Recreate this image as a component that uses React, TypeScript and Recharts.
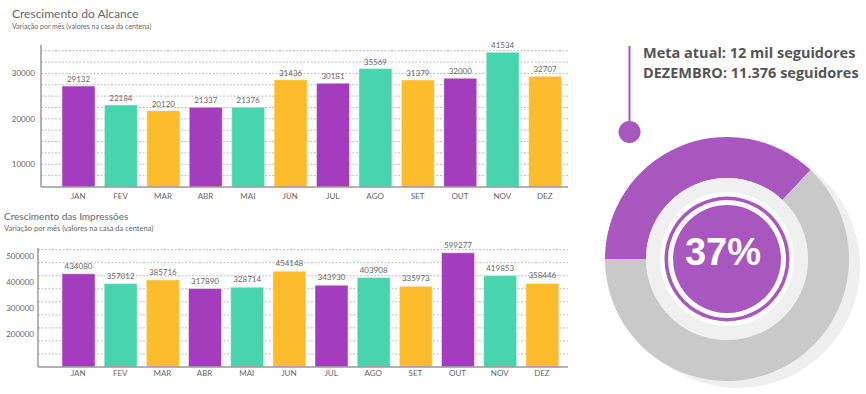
import React from 'react';
import { BarChart, Bar, XAxis, YAxis, CartesianGrid, Cell, LabelList, PieChart, Pie, Label } from 'recharts';

const MONTHS = ['JAN', 'FEV', 'MAR', 'ABR', 'MAI', 'JUN', 'JUL', 'AGO', 'SET', 'OUT', 'NOV', 'DEZ'];
const ALCANCE = [29132, 22184, 20120, 21337, 21376, 31436, 30181, 35569, 31379, 32000, 41534, 32707];
const IMPRESSOES = [434080, 357012, 385716, 317890, 328714, 454148, 343930, 403908, 335973, 599277, 419853, 358446];

const ALCANCE_TICKS = [10000, 20000, 30000];
const ALCANCE_GRID = [7500, 10000, 12500, 15000, 17500, 20000, 22500, 25000, 27500, 30000, 32500, 35000];
const IMPRESSOES_TICKS = [200000, 300000, 400000, 500000];
const IMPRESSOES_GRID = [125000, 175000, 225000, 275000, 325000, 375000, 425000, 475000, 525000];

// the bars of the source are not drawn to the printed axis, so they get their own hidden scale
const ALCANCE_BAR_DOMAIN = [-7900, 44200];
const IMPRESSOES_BAR_DOMAIN = [-300000, 637000];

const META = [
  { name: 'Atingido', value: 37 },
  { name: 'Restante', value: 63 },
];
const FULL = [{ name: 'full', value: 1 }];

const BAR_COLORS = ['#A43DBD', '#48D5AE', '#FDBC2B'];
const PURPLE = '#A857BF';
const TEXT = '#666';
const FONT = 'Lato, sans-serif';

const alcanceData = MONTHS.map((m, i) => ({ month: m, value: ALCANCE[i], range: [ALCANCE_BAR_DOMAIN[0], ALCANCE[i]] }));
const impressoesData = MONTHS.map((m, i) => ({ month: m, value: IMPRESSOES[i], range: [IMPRESSOES_BAR_DOMAIN[0], IMPRESSOES[i]] }));

const tickStyle = { fontSize: 8, fill: TEXT, fontFamily: FONT };

function Title({ x, y, size, sub, subSize, gap, children }: any) {
  return (
    <div style={{ position: 'absolute', left: x, top: y, fontFamily: FONT, color: TEXT, whiteSpace: 'nowrap' }}>
      <div style={{ fontSize: size, lineHeight: 1.2 }}>{children}</div>
      <div style={{ fontSize: subSize, lineHeight: 1.3, marginTop: gap }}>{sub}</div>
    </div>
  );
}

export default function App() {
  return (
    <div style={{ position: 'absolute', left: 0, top: 0, width: 866, height: 394, background: '#fff', overflow: 'hidden' }}>
      <Title x={12} y={7} size={12} subSize={7} gap={1} sub="Variação por mês (valores na casa da centena)">
        Crescimento do Alcance
      </Title>
      <Title x={4} y={210} size={10} subSize={7.5} gap={2} sub="Variação por mês (valores na casa da centena)">
        Crescimento das Impressões
      </Title>

      <div style={{ position: 'absolute', left: 0, top: 0 }}>
        <BarChart width={570} height={210} data={alcanceData} margin={{ top: 45, right: 2, left: 0, bottom: 3 }}>
          <CartesianGrid yAxisId="tick" vertical={false} horizontalValues={ALCANCE_GRID} stroke="#bbb" strokeDasharray="2 1.5" />
          <XAxis dataKey="month" tick={tickStyle} tickLine={false} tickSize={6} tickMargin={0} height={20}
            axisLine={{ stroke: '#999', strokeWidth: 1.5 }} padding={{ left: 16, right: 2 }} />
          <YAxis yAxisId="tick" width={41} domain={[5000, 36250]} ticks={ALCANCE_TICKS} interval={0} allowDataOverflow
            tick={tickStyle} tickLine={false} tickSize={0} tickMargin={6} axisLine={{ stroke: '#999', strokeWidth: 1.5 }} />
          <YAxis yAxisId="bar" orientation="right" width={0} hide domain={ALCANCE_BAR_DOMAIN} allowDataOverflow />
          <Bar yAxisId="bar" dataKey="range" barSize={33} stroke="#ffffff" strokeOpacity={0.45} isAnimationActive={false}>
            {alcanceData.map((_, i) => (
              <Cell key={i} fill={BAR_COLORS[i % 3]} />
            ))}
            <LabelList dataKey="value" position="top" offset={4} style={{ fontSize: 8, fill: TEXT, fontFamily: FONT }} />
          </Bar>
        </BarChart>
      </div>

      <div style={{ position: 'absolute', left: 0, top: 200 }}>
        <BarChart width={570} height={194} data={impressoesData} margin={{ top: 48, right: 2, left: 0, bottom: 7 }}>
          <CartesianGrid yAxisId="tick" vertical={false} horizontalValues={IMPRESSOES_GRID} stroke="#bbb" strokeDasharray="2 1.5" />
          <XAxis dataKey="month" tick={tickStyle} tickLine={false} tickSize={3} tickMargin={0} height={20}
            axisLine={{ stroke: '#999', strokeWidth: 1.5 }} padding={{ left: 19, right: 5 }} />
          <YAxis yAxisId="tick" width={38} domain={[75000, 531500]} ticks={IMPRESSOES_TICKS} interval={0} allowDataOverflow
            tick={tickStyle} tickLine={false} tickSize={0} tickMargin={4} axisLine={{ stroke: '#999', strokeWidth: 1.5 }} />
          <YAxis yAxisId="bar" orientation="right" width={0} hide domain={IMPRESSOES_BAR_DOMAIN} allowDataOverflow />
          <Bar yAxisId="bar" dataKey="range" barSize={33} stroke="#ffffff" strokeOpacity={0.45} isAnimationActive={false}>
            {impressoesData.map((_, i) => (
              <Cell key={i} fill={BAR_COLORS[i % 3]} />
            ))}
            <LabelList dataKey="value" position="top" offset={5} style={{ fontSize: 8, fill: TEXT, fontFamily: FONT }} />
          </Bar>
        </BarChart>
      </div>

      <div style={{ position: 'absolute', left: 643, top: 43, fontFamily: '"Open Sans", sans-serif', fontWeight: 700,
        fontSize: 14.5, color: '#555', lineHeight: '20px', whiteSpace: 'nowrap' }}>
        <div>Meta atual: 12 mil seguidores</div>
        <div>DEZEMBRO: 11.376 seguidores</div>
      </div>

      <svg style={{ position: 'absolute', left: 0, top: 0 }} width={866} height={394}>
        <line x1={629.5} y1={46} x2={629.5} y2={128} stroke={PURPLE} strokeWidth={2} />
        <circle cx={629.5} cy={132} r={11} fill={PURPLE} />
      </svg>

      <div style={{ position: 'absolute', left: 580, top: 110 }}>
        <PieChart width={286} height={284}>
          <Pie data={FULL} dataKey="value" cx={153} cy={151} outerRadius={122} fill="#efefef" stroke="none" isAnimationActive={false} />
          <Pie data={META} dataKey="value" cx={142} cy={144} innerRadius={81} outerRadius={122} startAngle={180} endAngle={-180}
            stroke="none" isAnimationActive={false}>
            <Cell fill={PURPLE} />
            <Cell fill="#C9C9C9" />
          </Pie>
          <Pie data={FULL} dataKey="value" cx={142} cy={144} outerRadius={81} fill="#f0f0f0" stroke="none" isAnimationActive={false} />
          <Pie data={FULL} dataKey="value" cx={142} cy={144} outerRadius={67} fill="#ffffff" stroke="none" isAnimationActive={false} />
          <Pie data={FULL} dataKey="value" cx={142} cy={144} innerRadius={59} outerRadius={62.5} fill={PURPLE} stroke="none" isAnimationActive={false} />
          <Pie data={FULL} dataKey="value" cx={142} cy={144} outerRadius={54} fill={PURPLE} stroke="none" isAnimationActive={false}>
            <Label value="37%" position="center" fill="#fff"
              style={{ fontSize: 38, fontWeight: 700, fontFamily: '"Liberation Sans", Arial, sans-serif' }} />
          </Pie>
        </PieChart>
      </div>
    </div>
  );
}
